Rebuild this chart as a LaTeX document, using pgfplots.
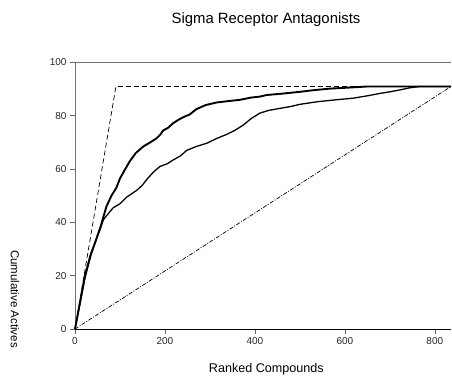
\documentclass[border=0pt]{standalone}
\usepackage{fontspec}
\setmainfont{Liberation Sans}
\usepackage{pgfplots}
\pgfplotsset{compat=1.18}

\pgfplotstableread{
x y
0 0
10 9
22 20
35 28
48 34
58 39
63 42
70 46
81 50
92 53
100 56.5
110 59.5
122 63
135 66
152 68.5
167 70
181 71.5
190 73
196 74.5
207 75.5
218 77.2
230 78.5
241 79.5
255 80.5
270 82.5
290 84
315 85
340 85.5
367 86
390 86.8
411 87.2
426 87.8
460 88.3
500 89
530 89.6
567 90.2
610 90.6
650 91
700 91
836 91
}\uppercurve

\pgfplotstableread{
x y
0 0
10 8.5
22 19
35 27.5
48 34
55 37
63 41
75 43.5
85 45.5
100 47
115 49.5
137 52
150 54
159 56
175 59
189 61
205 62
218 63.4
235 65
248 67
270 68.5
293 69.7
315 71.5
337 73
355 74.5
374 76.5
392 79
411 81
430 82
456 82.8
480 83.5
500 84.3
540 85.3
580 86
618 86.6
650 87.5
678 88.4
700 89
722 89.7
744 90.5
767 91
836 91
}\lowercurve

\begin{document}
\begin{tikzpicture}
\begin{axis}[
  scale only axis, width=376bp, height=266.5bp,
  xmin=0, xmax=836, ymin=0, ymax=100,
  axis x line*=bottom, axis y line*=left,
  xtick={0,200,400,600,800}, ytick={0,20,40,60,80,100},
  tick align=outside, major tick length=5bp,
  tick style={black!60, line width=0.6pt},
  tick label style={font=\fontsize{10bp}{12bp}\selectfont, text=black!85},
  /pgf/number format/assume math mode=true,
  x axis line style={black, line width=0.8pt, -},
  y axis line style={black!55, line width=1pt, -},
  clip=false,
]
\draw[black!55, line width=1pt] (rel axis cs:0,1) -- (rel axis cs:1,1);
% ideal
\addplot[black, line width=0.7bp, dash pattern=on 5bp off 3bp] coordinates {(0,0) (91,91) (836,91)};
% random
\addplot[black, line width=0.7bp, dash pattern=on 4bp off 1.5bp on 1bp off 1.5bp] coordinates {(0,0) (836,91)};
\addplot[black, line width=1.9bp, line join=round] table {\uppercurve};
\addplot[black, line width=1.3bp, line join=round] table {\lowercurve};

\node[font=\fontsize{14.9bp}{16bp}\selectfont, anchor=base] at ([yshift=39.2bp]rel axis cs:0.508,1) {Sigma Receptor Antagonists};
\node[font=\fontsize{12.6bp}{14bp}\selectfont, anchor=base] at ([yshift=-43bp]rel axis cs:0.509,0) {Ranked Compounds};
\node[font=\fontsize{11.5bp}{13bp}\selectfont, rotate=-90, anchor=center] at ([xshift=-60bp,yshift=30bp]rel axis cs:0,0) {Cumulative Actives};
\coordinate (SW) at (rel axis cs:0,0);
\coordinate (NE) at (rel axis cs:1,1);
\end{axis}
\pgfresetboundingbox
\path[use as bounding box] ([xshift=-75bp,yshift=-49bp]SW) rectangle ([xshift=1bp,yshift=62.5bp]NE);
\end{tikzpicture}
\end{document}
